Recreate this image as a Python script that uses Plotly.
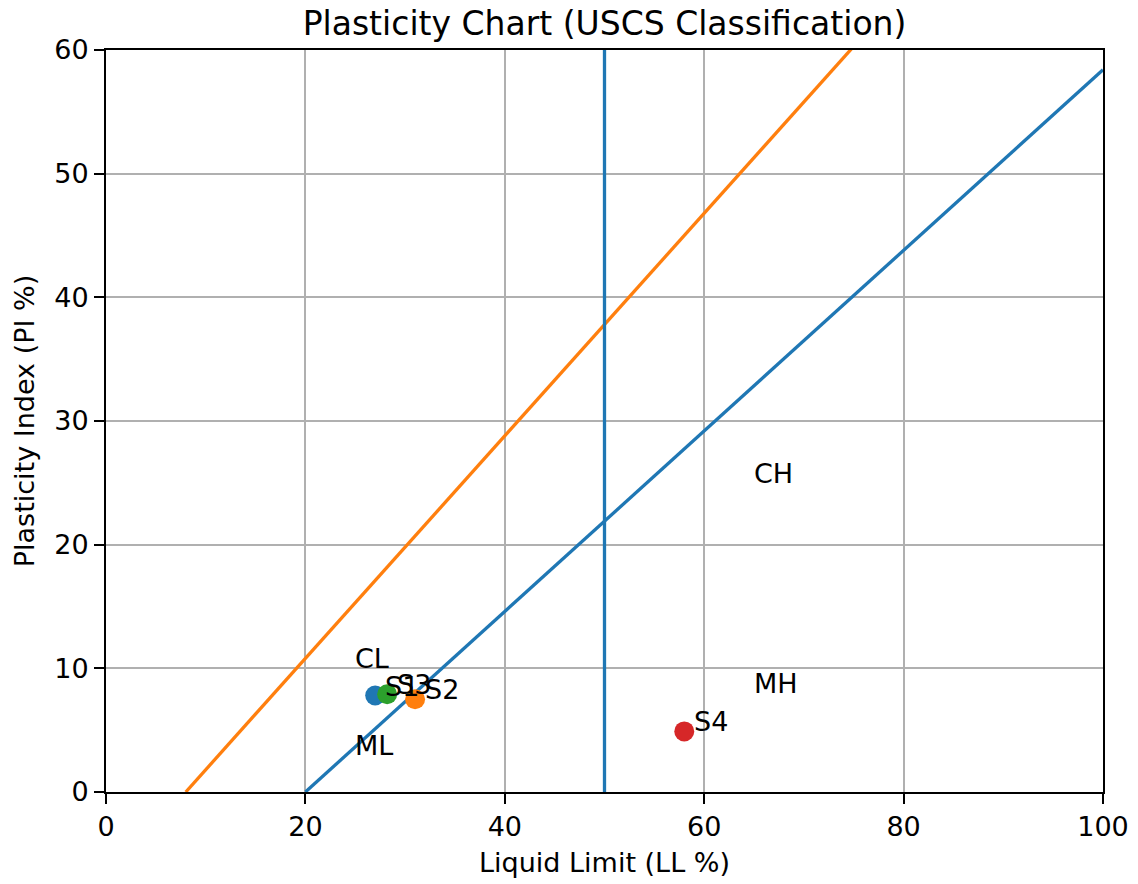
import plotly.graph_objects as go

# Sample data
sample_names = ["S1", "S2", "S3", "S4"]
sample_ll = [27, 31, 28.2, 58]
sample_pi = [7.8, 7.5, 7.9, 4.9]
sample_colors = ["#1f77b4", "#ff7f0e", "#2ca02c", "#d62728"]

# Reference lines
a_line_ll = [20, 100]
a_line_pi = [0, 58.4]
u_line_ll = [8, 100]
u_line_pi = [0, 82.8]
ll_boundary = [50, 50]
ll_boundary_pi = [0, 60]

# Region labels
region_names = ["CL", "ML", "CH", "MH"]
region_ll = [25, 25, 65, 65]
region_pi = [10, 3, 25, 8]

FONT = "DejaVu Sans"
FS = 27
fig = go.Figure()
fig.add_trace(go.Scatter(x=a_line_ll, y=a_line_pi, mode="lines",
                         line=dict(color="#1f77b4", width=3.3), showlegend=False))
fig.add_trace(go.Scatter(x=u_line_ll, y=u_line_pi, mode="lines",
                         line=dict(color="#ff7f0e", width=3.3), showlegend=False))
fig.add_trace(go.Scatter(x=ll_boundary, y=ll_boundary_pi, mode="lines",
                         line=dict(color="#1f77b4", width=3.3), showlegend=False))
for n, x, y, c in zip(sample_names, sample_ll, sample_pi, sample_colors):
    fig.add_trace(go.Scatter(x=[x], y=[y], mode="markers",
                             marker=dict(color=c, size=20), showlegend=False))
    fig.add_annotation(x=x + 1, y=y, text=n, showarrow=False, xanchor="left",
                       yanchor="bottom", yshift=-8, xshift=-2,
                       font=dict(family=FONT, size=FS, color="black"))
for n, x, y in zip(region_names, region_ll, region_pi):
    fig.add_annotation(x=x, y=y, text=n, showarrow=False, xanchor="left",
                       yanchor="bottom", yshift=-8, xshift=-2,
                       font=dict(family=FONT, size=FS, color="black"))

axis_common = dict(showgrid=True, gridcolor="#b0b0b0", gridwidth=2,
                   showline=True, linecolor="black", linewidth=2, mirror=True,
                   ticks="outside", ticklen=10, tickwidth=2, tickcolor="black",
                   zeroline=False, tickfont=dict(family=FONT, size=FS, color="black"))
fig.update_xaxes(range=[0, 100], tickvals=[0, 20, 40, 60, 80, 100],
                 title=dict(text="Liquid Limit (LL %)", font=dict(family=FONT, size=FS, color="black"), standoff=12),
                 **axis_common)
fig.update_yaxes(range=[0, 60], tickvals=[0, 10, 20, 30, 40, 50, 60],
                 title=dict(text="Plasticity Index (PI %)", font=dict(family=FONT, size=FS, color="black"), standoff=12),
                 **axis_common)
fig.update_layout(width=1138, height=884, plot_bgcolor="white", paper_bgcolor="white",
                  margin=dict(l=98, r=43, t=42, b=100),
                  title=dict(text="Plasticity Chart (USCS Classification)", x=0.5, xref="paper", xanchor="center",
                             y=0.982, yref="container", yanchor="middle",
                             font=dict(family=FONT, size=33, color="black")))
fig.write_html("out.html")
